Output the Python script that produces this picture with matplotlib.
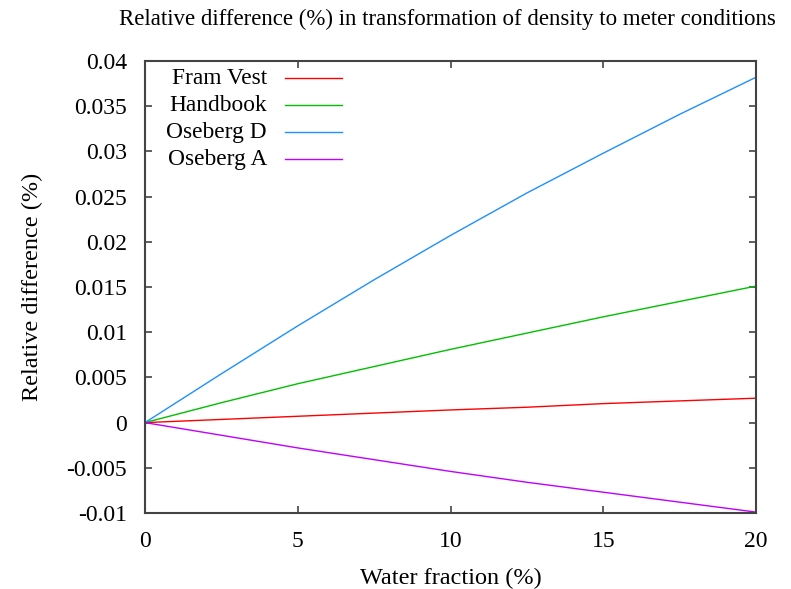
import matplotlib
matplotlib.use("Agg")
import matplotlib.pyplot as plt
from matplotlib.lines import Line2D

water = [0, 2.5, 5, 7.5, 10, 12.5, 15, 17.5, 20]
fram_vest = [0, 0.00035, 0.0007, 0.00105, 0.0014, 0.0017, 0.0021, 0.0024, 0.0027]
handbook = [0, 0.0022, 0.0043, 0.0062, 0.0081, 0.0099, 0.0117, 0.0134, 0.0151]
oseberg_d = [0, 0.0054, 0.0107, 0.0158, 0.0207, 0.0254, 0.0298, 0.0341, 0.0382]
oseberg_a = [0, -0.0014, -0.0028, -0.0041, -0.0054, -0.0066, -0.0077, -0.0088, -0.0099]

labels = ["Fram Vest", "Handbook", "Oseberg D", "Oseberg A"]
colors = ["#ff0000", "#00c000", "#1e90ff", "#c000ff"]
series = [fram_vest, handbook, oseberg_d, oseberg_a]

xticks = [0, 5, 10, 15, 20]
yticks = [-0.01, -0.005, 0, 0.005, 0.01, 0.015, 0.02, 0.025, 0.03, 0.035, 0.04]
ytick_labels = ["-0.01", "-0.005", "0", "0.005", "0.01", "0.015", "0.02", "0.025", "0.03", "0.035", "0.04"]

plt.rcParams['font.family'] = ['Liberation Serif', 'DejaVu Serif']

W, H = 791, 589
L, R, T, B = 145, 756, 61, 513

fig = plt.figure(figsize=(W/100, H/100), dpi=100)
ax = fig.add_axes([L/W, 1-B/H, (R-L)/W, (B-T)/H])

for y, c in zip(series, colors):
    ax.plot(water, y, color=c, lw=1.0)

ax.set_xlim(0, 20)
ax.set_ylim(-0.01, 0.04)
ax.set_xticks(xticks)
ax.set_xticklabels([str(t) for t in xticks])
ax.set_yticks(yticks)
ax.set_yticklabels(ytick_labels)
ax.tick_params(direction='in', length=5, width=1.2, color='#444444',
               top=True, right=True, labelsize=17)
ax.tick_params(axis='y', pad=13)
ax.tick_params(axis='x', pad=13)
for s in ax.spines.values():
    s.set_color('#444444')
    s.set_linewidth(1.5)

ax.set_xlabel("Water fraction (%)", fontsize=17.5)
ax.set_ylabel("Relative difference (%)", fontsize=17.5)
ax.xaxis.label.set_va('center')
ax.yaxis.label.set_va('center')
ax.xaxis.set_label_coords(0.5, (B-578)/(B-T))
ax.yaxis.set_label_coords((32-L)/(R-L), 0.5)
fig.text(447/W, 1-19/H, "Relative difference (%) in transformation of density to meter conditions",
         ha='center', va='center', fontsize=16.5)

# legend (gnuplot style: right-aligned labels, sample lines on the right)
for i, (lab, c) in enumerate(zip(labels, colors)):
    yp = 1 - (78.3 + 26.9*i - T) / (B - T)
    ax.text((267-L)/(R-L), yp, lab, transform=ax.transAxes, ha='right', va='center', fontsize=16.8)
    ax.add_line(Line2D([(285-L)/(R-L), (342-L)/(R-L)], [yp, yp], transform=ax.transAxes, color=c, lw=1.0))

fig.savefig("out.png", dpi=100)
